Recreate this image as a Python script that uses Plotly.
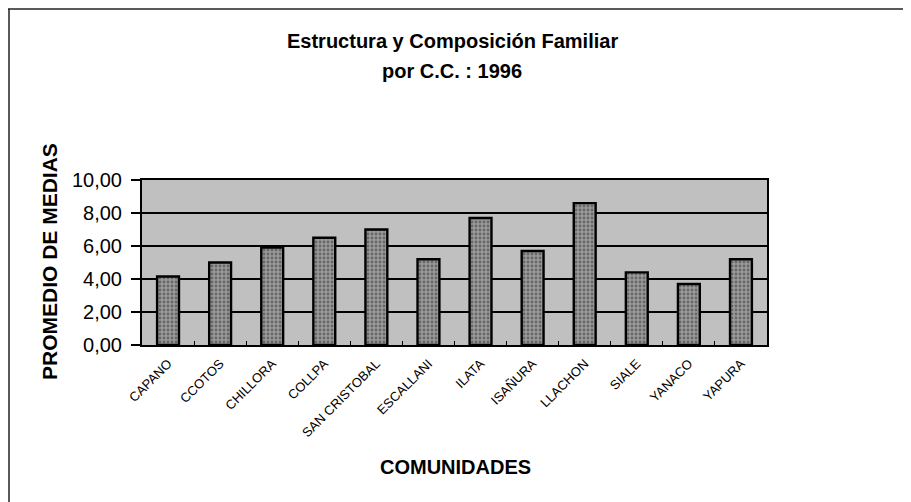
import plotly.graph_objects as go

comunidades = ["CAPANO", "CCOTOS", "CHILLORA", "COLLPA", "SAN CRISTOBAL", "ESCALLANI",
               "ILATA", "ISAÑURA", "LLACHON", "SIALE", "YANACO", "YAPURA"]
promedio = [4.15, 5.0, 5.9, 6.5, 7.0, 5.2, 7.7, 5.7, 8.6, 4.4, 3.7, 5.2]
y_ticks = [0, 2, 4, 6, 8, 10]

# the page body has an 8px margin, so figure coordinates = screen - 8
OFF = 8
W, H = 911 - OFF, 502 - OFF
L, R, T, B = 142 - OFF, 767 - OFF, 180 - OFF, 345 - OFF  # plot area bounds (figure px)

fig = go.Figure()
fig.add_trace(go.Bar(
    x=comunidades, y=promedio, width=0.42,
    marker=dict(color="#8a8a8a",
                line=dict(color="black", width=2.4),
                pattern=dict(shape=".", fgcolor="#333333", bgcolor="#9a9a9a",
                             size=4, solidity=0.4)),
    hoverinfo="x+y",
))

font = "Liberation Sans, Arial, sans-serif"

def px(x):  # screen x -> paper
    return (x - OFF - L) / (R - L)

def py(y):  # screen y -> paper
    return (B - (y - OFF)) / (B - T)

fig.update_layout(
    width=W, height=H,
    margin=dict(l=L, r=W - R, t=T, b=H - B, pad=0),
    paper_bgcolor="white",
    plot_bgcolor="#c0c0c0",
    separators=",.",
    showlegend=False,
    font=dict(family=font, color="black"),
    xaxis=dict(
        type="category",
        tickangle=-45,
        tickfont=dict(size=13, family=font),
        ticks="inside", ticklen=4, tickcolor="black", tickson="boundaries",
        showline=True, linecolor="black", linewidth=2, mirror=True,
        showgrid=False,
        ticklabelstandoff=4,
    ),
    yaxis=dict(
        range=[0, 10],
        tickvals=y_ticks,
        tickformat=".2f",
        tickfont=dict(size=20, family=font),
        ticks="outside", ticklen=9, tickcolor="black", tickwidth=1.5,
        ticklabelstandoff=5,
        showline=True, linecolor="black", linewidth=2, mirror=True,
        showgrid=True, gridcolor="black", gridwidth=1.5,
        zeroline=False,
    ),
    annotations=[
        dict(text="<b>Estructura y Composición Familiar</b>", x=px(452), y=py(41),
             xref="paper", yref="paper", showarrow=False,
             font=dict(size=20, family=font), xanchor="center", yanchor="middle"),
        dict(text="<b>por C.C. : 1996</b>", x=px(452), y=py(71),
             xref="paper", yref="paper", showarrow=False,
             font=dict(size=20, family=font), xanchor="center", yanchor="middle"),
        dict(text="<b>PROMEDIO DE MEDIAS</b>", x=px(49), y=py(262),
             xref="paper", yref="paper", showarrow=False, textangle=-90,
             font=dict(size=21, family=font), xanchor="center", yanchor="middle"),
        dict(text="<b>COMUNIDADES</b>", x=px(455), y=py(467),
             xref="paper", yref="paper", showarrow=False,
             font=dict(size=20, family=font), xanchor="center", yanchor="middle"),
    ],
    shapes=[
        dict(type="line", xref="paper", yref="paper",
             x0=px(8), x1=px(911), y0=py(9), y1=py(9),
             line=dict(color="#222", width=1.5)),
        dict(type="line", xref="paper", yref="paper",
             x0=px(9), x1=px(9), y0=py(9), y1=py(502),
             line=dict(color="#222", width=1.5)),
    ],
)

fig.write_html("out.html")
